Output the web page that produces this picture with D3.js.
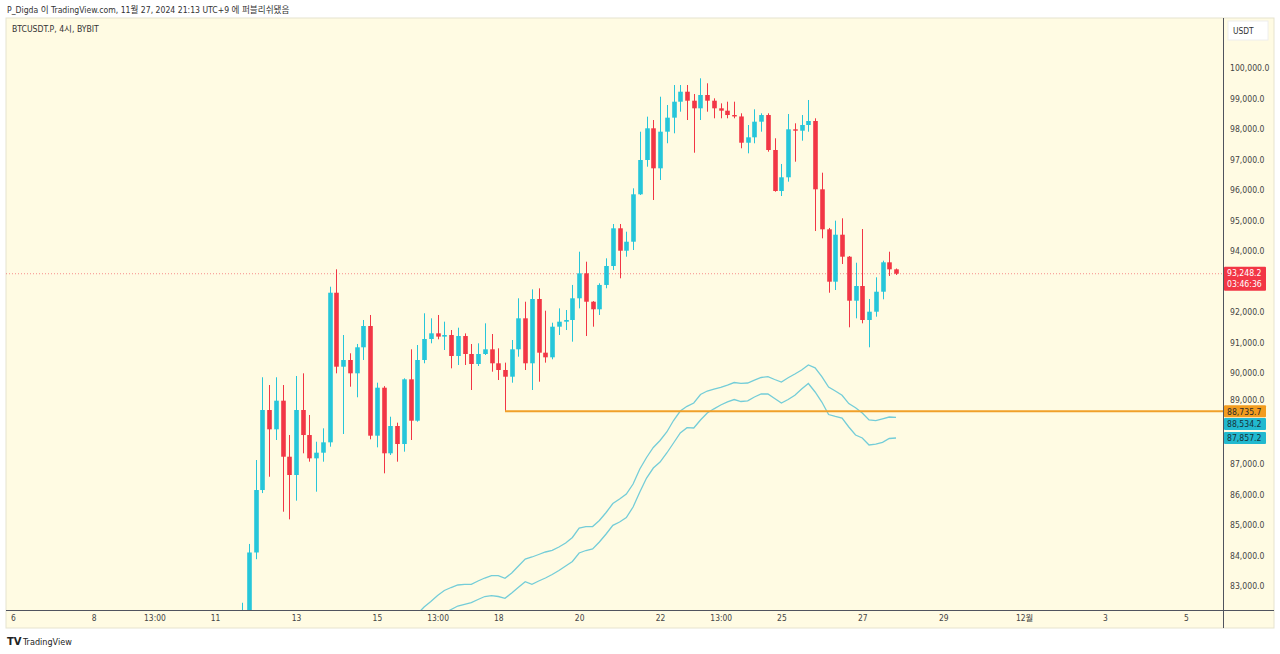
<!DOCTYPE html>
<html><head><meta charset="utf-8">
<script src="https://cdn.jsdelivr.net/npm/d3@7"></script>
<style>
html,body{margin:0;padding:0;background:#fff;}
svg{display:block;}
text{font-family:"Liberation Sans Narrow","DejaVu Sans Condensed","Noto Sans CJK KR",sans-serif;}
</style></head>
<body><svg id="c" width="1280" height="654"></svg>
<script>
// ---------- DATA ----------
const opens  = [81900,81900,84100,86150,88776,88142,89082,87243,86643,88776,87955,87190,87375,87715,92625,90197,90417,89980,90834,91533,87933,89508,87355,88251,87660,89783,88425,90417,91106,91293,91184,91237,90548,91204,90614,90286,90614,90768,90309,90089,89869,90768,91785,90309,92419,90657,90505,91510,91674,91730,92442,93262,92330,92081,92880,93502,94739,94004,94299,95855,96981,98021,96708,97910,98370,98894,99222,98927,98677,99114,98927,98677,98599,98457,98410,97548,97725,98238,98457,97309,95963,96413,97988,97942,98129,98261,96019,94706,92987,94529,93807,92363,92845,91730,92002,92658,93623,93393];
const highs  = [82450,84380,87135,89850,89596,89850,89596,87956,89892,89980,88612,87735,88175,92822,93393,91237,90637,90943,91730,91894,89672,89560,88556,88360,89816,90768,90909,91950,91785,91894,91675,91401,91477,91290,90942,90965,91621,91270,90801,90330,91073,92442,92330,92736,92769,92035,91641,92112,92058,92880,93971,93643,92350,92934,93754,94880,94880,94627,96052,97909,98403,98293,99058,98786,99442,99442,99442,99147,99662,99498,99005,98840,98894,98894,98513,98129,98645,98513,98513,97693,96850,98490,98185,98457,98950,98349,96564,94750,94990,95067,93830,93610,94716,92419,93131,93676,93971,93420];
const lows   = [81400,81700,83880,86050,86586,87791,85438,85188,85800,87355,87080,86095,87080,87572,89980,87988,89541,89193,90417,87814,87551,86698,87299,87080,87408,87791,88393,90309,90965,91096,90745,90144,90253,90253,89432,90220,90581,90033,89760,88735.7,89672,90525,90089,89432,89705,90330,90440,91237,91401,91018,92112,91204,91510,91894,92771,93371,93098,93807,94027,95832,96761,95668,96324,97530,97857,98566,98293,97220,98293,98566,98349,98349,98349,98349,97365,97200,97529,97910,97253,95940,95799,96269,96925,97614,97909,94650,94411,92625,92714,93567,91490,91785,91621,90834,91838,92409,93174,93207];
const closes = [82050,84100,86150,88776,88142,89082,87243,86643,88776,87955,87190,87375,87715,92625,90197,90417,89980,90834,91533,87933,89508,87355,88251,87660,89783,88425,90417,91106,91293,91184,91237,90548,91204,90614,90286,90614,90768,90309,90089,89869,90768,91785,90309,92419,90657,90505,91510,91674,91730,92442,93262,92330,92081,92880,93502,94739,94004,94299,95855,96981,98021,96708,97910,98370,98894,99222,98927,98677,99114,98927,98677,98599,98457,98410,97548,97725,98238,98457,97309,95963,96413,97988,97942,98129,98261,96019,94706,92987,94529,93807,92363,92845,91730,92002,92658,93623,93393,93248.2];

// band indicator (upper starts at bar 26, lower at bar 30)
const upperStart = 26;
const upperBand = [82081,82311,82491,82688,82852,82950,83033,83056,83056,83164,83262,83338,83338,83252,83426,83656,83886,83952,84034,84116,84171,84280,84411,84592,84903,84946,84952,85149,85412,85707,85855,86019,86347,86840,87217,87545,87775,88054,88431,88743,88897,89006,89285,89399,89458,89521,89596,89678,89652,89662,89754,89843,89869,89777,89695,89833,89957,90089,90253,90161,89869,89531,89399,89258,88986,88848,88677,88448,88428,88487,88546,88534.2];
const lowerStart = 30;
const lowerBand = [82114,82228,82343,82399,82458,82557,82655,82682,82655,82596,82770,82957,83141,83056,83164,83262,83377,83508,83656,83804,84083,84165,84214,84444,84706,84992,85100,85248,85592,86085,86544,86872,87069,87365,87693,88021,88195,88185,88448,88677,88815,88940,89045,89120,89055,89078,89203,89301,89301,89153,89006,89120,89258,89465,89646,89367,89038,88628,88563,88513,88218,87955,87857,87627,87653,87716,87841,87857.2];

const supportBar = 39, supportPrice = 88735.7;
const lastPrice = 93248.2, countdown = "03:46:36";

const timeTickLabels = ["6","8","13:00","11","13","15","13:00","18","20","22","13:00","25","27","29","12월","3","5"];
const timeTickBars   = [-34,-22,-13,-4,8,20,29,38,50,62,71,80,92,104,116,128,140];
const priceTicks = d3.range(83000, 100001, 1000);

// ---------- LAYOUT ----------
const svg = d3.select("#c");
const L = 6, R = 1223, T = 18, B = 610, BOT = 628, RIGHT = 1274;
const bg = "#fffbe3";
const up = "#26c6da", dn = "#f23645";

const x = d3.scaleLinear().domain([8, 97]).range([296, 896]);
const y = d3.scaleLinear().domain([83000, 100000]).range([586, 68]);
const fmt = d3.format(",.1f");

svg.append("rect").attr("x",0).attr("y",0).attr("width",1280).attr("height",654).attr("fill","#fff");
svg.append("rect").attr("x",L).attr("y",T).attr("width",RIGHT-L).attr("height",BOT-T).attr("fill",bg)
   .attr("stroke","#e6e3cf").attr("stroke-width",1);

// header
svg.append("text").attr("x",7).attr("y",13).attr("font-size",8.6).attr("fill","#333")
   .text("P_Digda 이 TradingView.com, 11월 27, 2024 21:13 UTC+9 에 퍼블리쉬됐음");
svg.append("text").attr("x",12).attr("y",32).attr("font-size",8.6).attr("fill","#333")
   .text("BTCUSDT.P, 4시, BYBIT");

svg.append("defs").append("clipPath").attr("id","pc").append("rect")
   .attr("x",L).attr("y",T).attr("width",R-L).attr("height",B-T);
const plot = svg.append("g").attr("clip-path","url(#pc)");

// last price dotted line
plot.append("line").attr("x1",L).attr("x2",R).attr("y1",y(lastPrice)).attr("y2",y(lastPrice))
   .attr("stroke",dn).attr("stroke-opacity",0.55).attr("stroke-width",1).attr("stroke-dasharray","1,2");

// bands
const upperData = upperBand.map((v,i)=>[upperStart+i, v]);
const lowerData = lowerBand.map((v,i)=>[lowerStart+i, v]);
const line = d3.line().x(d=>x(d[0])).y(d=>y(d[1]));
plot.append("path").datum(upperData).attr("d",line).attr("fill","none").attr("stroke","#74cdd8").attr("stroke-width",1.3);
plot.append("path").datum(lowerData).attr("d",line).attr("fill","none").attr("stroke","#74cdd8").attr("stroke-width",1.3);

// candles
const bars = opens.map((o,i)=>({i, o, h:highs[i], l:lows[i], c:closes[i]}));
const bw = 4.6;
const g = plot.append("g");
g.selectAll("line.w").data(bars).join("line").attr("class","w")
  .attr("x1",d=>Math.round(x(d.i))+0.5).attr("x2",d=>Math.round(x(d.i))+0.5)
  .attr("y1",d=>y(d.h)).attr("y2",d=>y(d.l))
  .attr("stroke",d=>d.c>=d.o?up:dn).attr("stroke-width",1);
g.selectAll("rect.b").data(bars).join("rect").attr("class","b")
  .attr("x",d=>Math.round(x(d.i))+0.5-bw/2).attr("width",bw)
  .attr("y",d=>y(Math.max(d.o,d.c)))
  .attr("height",d=>Math.max(1.2, Math.abs(y(d.o)-y(d.c))))
  .attr("fill",d=>d.c>=d.o?up:dn);

// support line
plot.append("line").attr("x1",x(supportBar)).attr("x2",R).attr("y1",y(supportPrice)).attr("y2",y(supportPrice))
   .attr("stroke","#f0a02a").attr("stroke-width",2);

// axes lines
svg.append("line").attr("x1",L).attr("x2",RIGHT).attr("y1",B+0.5).attr("y2",B+0.5).attr("stroke","#50535e").attr("stroke-width",1);
svg.append("line").attr("x1",R+0.5).attr("x2",R+0.5).attr("y1",T).attr("y2",BOT).attr("stroke","#50535e").attr("stroke-width",1);

// price axis (tick labels hidden behind the value tags are skipped, as in the original)
const tagPrices = [supportPrice, upperBand[upperBand.length-1], lowerBand[lowerBand.length-1]];
const lastTop = y(lastPrice) - 9, lastBot = y(lastPrice) + 19;
const visibleTicks = priceTicks.filter(p =>
  (!tagPrices.some(t => Math.abs(y(t) - y(p)) < 7) || p === 89000) &&
  !(y(p) > lastTop && y(p) < lastBot));
const pa = svg.append("g").attr("transform",`translate(${R},0)`)
  .call(d3.axisRight(y).tickValues(visibleTicks).tickFormat(fmt).tickSize(0).tickPadding(7));
pa.select(".domain").remove();
pa.selectAll("text").attr("font-size",8.6).attr("fill","#444")
  .style("font-family",'"Liberation Sans Narrow","DejaVu Sans Condensed",sans-serif');
pa.selectAll(".tick").filter(d => d === 89000).select("text").attr("dy","-0.05em");

// time axis
const ta = svg.append("g").attr("transform",`translate(0,${B})`)
  .call(d3.axisBottom(x).tickValues(timeTickBars).tickFormat((d,i)=>timeTickLabels[i]).tickSize(0).tickPadding(5));
ta.select(".domain").remove();
ta.selectAll("text").attr("font-size",8.4).attr("fill","#444")
  .style("font-family",'"Liberation Sans Narrow","DejaVu Sans Condensed","Noto Sans CJK KR",sans-serif');

// USDT box
svg.append("rect").attr("x",1228).attr("y",21).attr("width",40).attr("height",19).attr("fill","#fff").attr("stroke","#eee");
svg.append("text").attr("x",1233).attr("y",34).attr("font-size",8.4).attr("fill","#333").text("USDT");

// price labels
function tag(price, fill, txtColor, yOff, h, lines){
  const yy = y(price) + (yOff||0);
  const gg = svg.append("g");
  gg.append("rect").attr("x",R+1).attr("y",yy-6).attr("width",42).attr("height",h).attr("fill",fill).attr("rx",1);
  lines.forEach((t,k)=>gg.append("text").attr("x",R+4).attr("y",yy+3.3+k*11).attr("font-size",8.6).attr("fill",txtColor).text(t));
}
tag(supportPrice, "#f29c1f", "#2a2a2a", 0, 12, [fmt(supportPrice)]);
tag(upperBand[upperBand.length-1], "#22b9cf", "#16333a", 424 - y(upperBand[upperBand.length-1]), 12, [fmt(upperBand[upperBand.length-1])]);
tag(lowerBand[lowerBand.length-1], "#22b9cf", "#16333a", 0, 12, [fmt(lowerBand[lowerBand.length-1])]);
tag(lastPrice, dn, "#fff", -1, 24, [fmt(lastPrice), countdown]);

// logo
svg.append("text").attr("x",7).attr("y",645).attr("font-size",10).attr("font-weight","bold").attr("fill","#222")
   .style("font-family","DejaVu Sans, sans-serif").text("TV");
svg.append("text").attr("x",23).attr("y",645).attr("font-size",9).attr("fill","#222").text("TradingView");
</script></body></html>
